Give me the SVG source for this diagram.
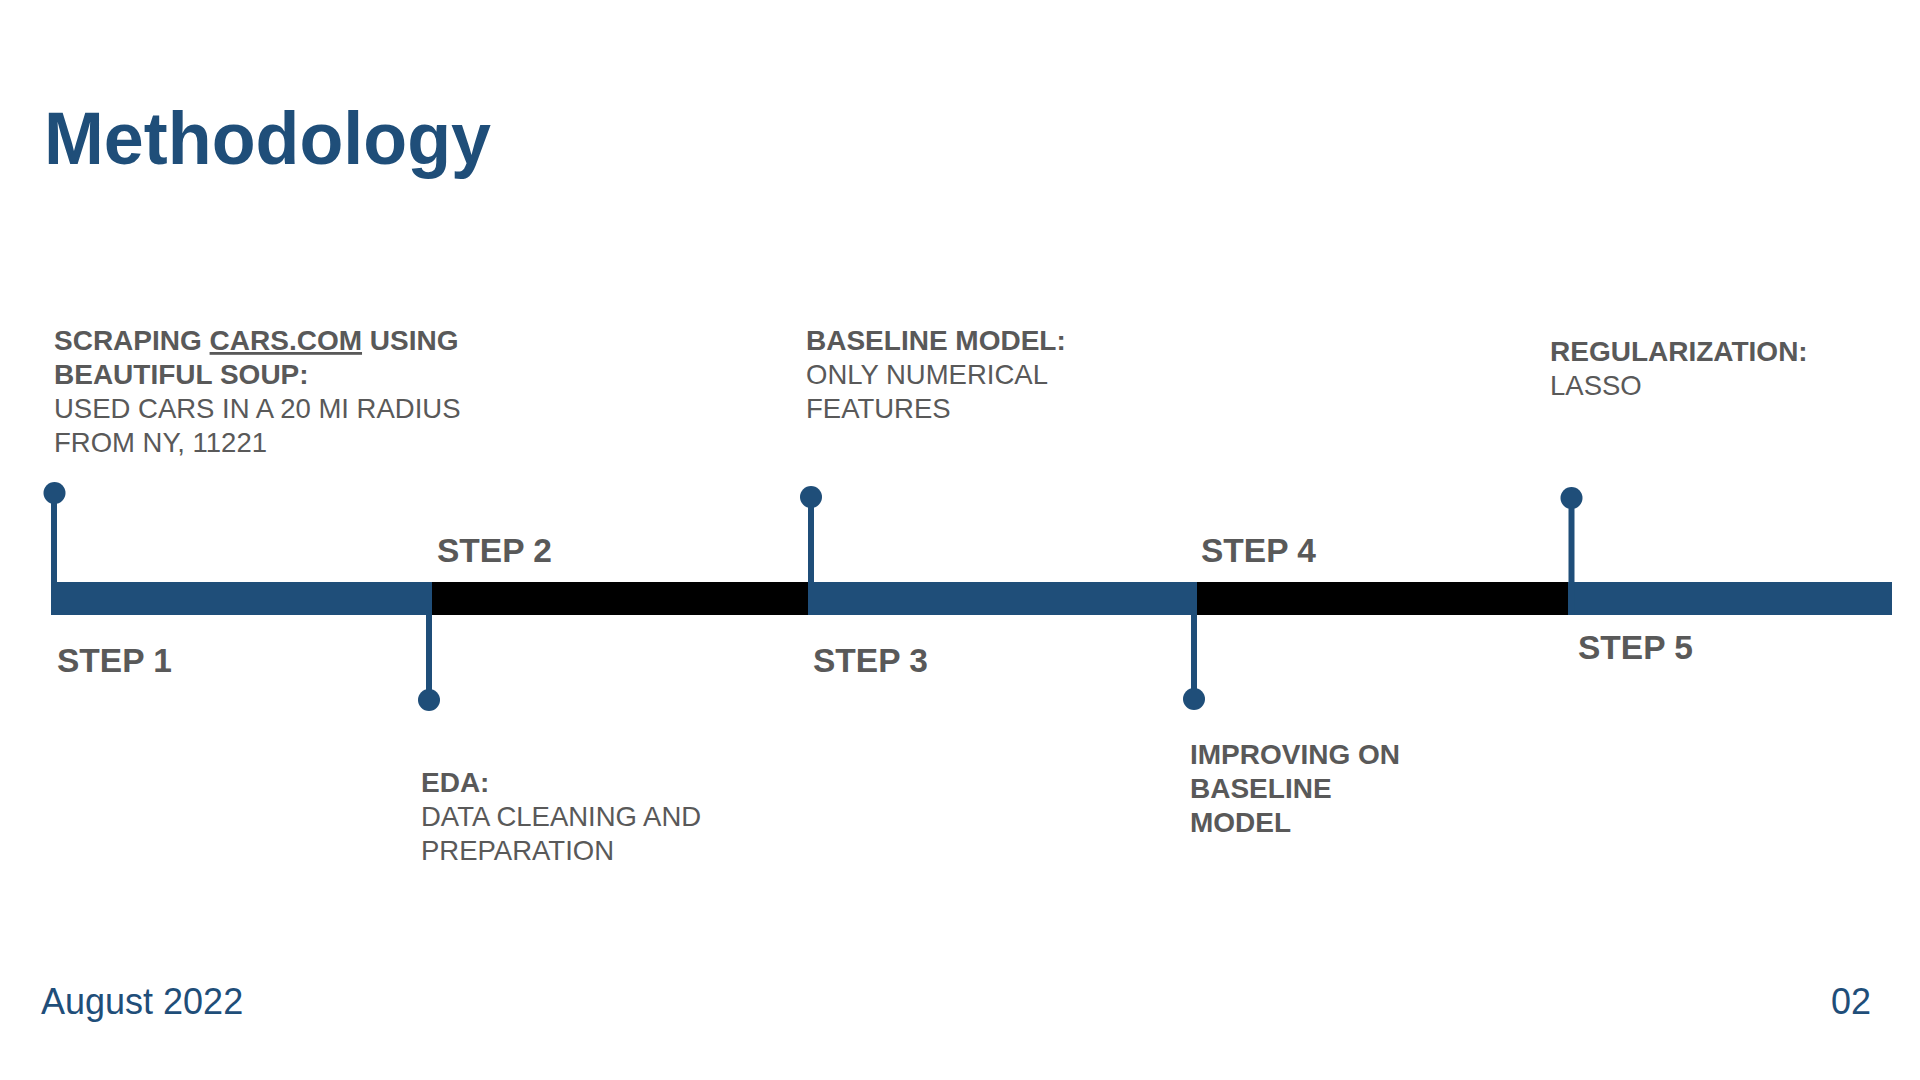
<svg xmlns="http://www.w3.org/2000/svg" width="1920" height="1080" viewBox="0 0 1920 1080">
<style>
.title{font-family:"Liberation Sans",Arial,sans-serif;font-weight:bold;font-size:74px;fill:#1f4e79}
.step{font-family:"Liberation Sans",Arial,sans-serif;font-weight:bold;font-size:33.5px;fill:#595959}
.hd{font-family:"Liberation Sans",Arial,sans-serif;font-weight:bold;font-size:28px;fill:#595959}
.tx{font-family:"Liberation Sans",Arial,sans-serif;font-size:27.5px;fill:#595959}
.foot{font-family:"Liberation Sans",Arial,sans-serif;font-size:36px;fill:#1f4e79}
.blue{fill:#1f4e79}
.black{fill:#000000}
.stem{stroke:#1f4e79;stroke-width:6;fill:none}
.dot{fill:#1f4e79}
</style>
<rect width="1920" height="1080" fill="#ffffff"/>
<text class="title" x="44" y="164" textLength="447" lengthAdjust="spacingAndGlyphs">Methodology</text>

<g id="timeline">
  <rect class="blue" x="51" y="582" width="381" height="33"/>
  <rect class="black" x="432" y="582" width="376" height="33"/>
  <rect class="blue" x="808" y="582" width="389" height="33"/>
  <rect class="black" x="1197" y="582" width="371" height="33"/>
  <rect class="blue" x="1568" y="582" width="324" height="33"/>
</g>

<g id="connectors">
  <line class="stem" x1="54" y1="493" x2="54" y2="600"/>
  <circle class="dot" cx="54.5" cy="493" r="11"/>
  <line class="stem" x1="429" y1="600" x2="429" y2="700"/>
  <circle class="dot" cx="429" cy="700" r="11"/>
  <line class="stem" x1="811" y1="497" x2="811" y2="600"/>
  <circle class="dot" cx="811" cy="497" r="11"/>
  <line class="stem" x1="1194" y1="600" x2="1194" y2="699"/>
  <circle class="dot" cx="1194" cy="699" r="11"/>
  <line class="stem" x1="1571.5" y1="498" x2="1571.5" y2="615"/>
  <circle class="dot" cx="1571.5" cy="498" r="11"/>
</g>

<g id="step1">
  <text class="step" x="57" y="672">STEP 1</text>
  <text class="hd" x="54" y="350">SCRAPING <tspan text-decoration="underline">CARS.COM</tspan> USING</text>
  <text class="hd" x="54" y="384">BEAUTIFUL SOUP:</text>
  <text class="tx" x="54" y="418">USED CARS IN A 20 MI RADIUS</text>
  <text class="tx" x="54" y="452">FROM NY, 11221</text>
</g>

<g id="step2">
  <text class="step" x="437" y="562">STEP 2</text>
  <text class="hd" x="421" y="792">EDA:</text>
  <text class="tx" x="421" y="826">DATA CLEANING AND</text>
  <text class="tx" x="421" y="860">PREPARATION</text>
</g>

<g id="step3">
  <text class="step" x="813" y="672">STEP 3</text>
  <text class="hd" x="806" y="350">BASELINE MODEL:</text>
  <text class="tx" x="806" y="384">ONLY NUMERICAL</text>
  <text class="tx" x="806" y="418">FEATURES</text>
</g>

<g id="step4">
  <text class="step" x="1201" y="562">STEP 4</text>
  <text class="hd" x="1190" y="764">IMPROVING ON</text>
  <text class="hd" x="1190" y="798">BASELINE</text>
  <text class="hd" x="1190" y="832">MODEL</text>
</g>

<g id="step5">
  <text class="step" x="1578" y="659">STEP 5</text>
  <text class="hd" x="1550" y="361">REGULARIZATION:</text>
  <text class="tx" x="1550" y="395">LASSO</text>
</g>

<text class="foot" x="41" y="1014">August 2022</text>
<text class="foot" x="1871" y="1014" text-anchor="end">02</text>
</svg>
